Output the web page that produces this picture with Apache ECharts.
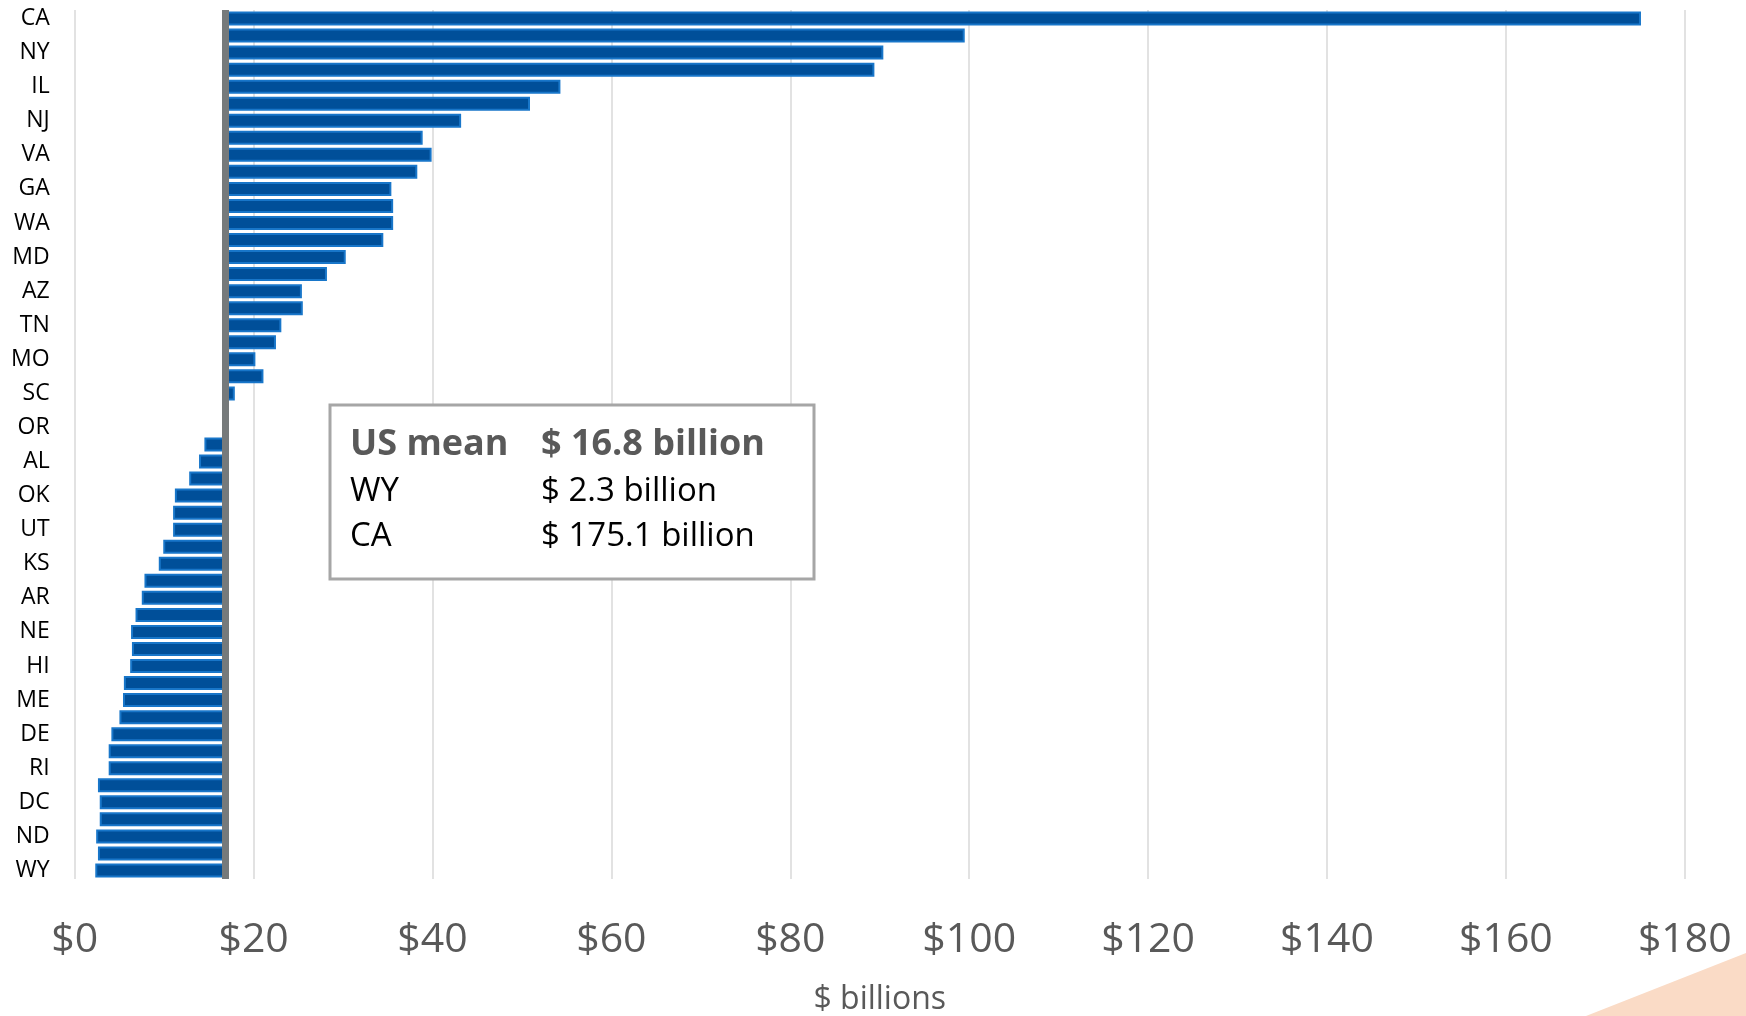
<!DOCTYPE html>
<html>
<head>
<meta charset="utf-8">
<script src="https://cdn.jsdelivr.net/npm/echarts@6/dist/echarts.min.js"></script>
<style>
  html, body { margin: 0; padding: 0; background: #ffffff; }
  #chart { width: 1746px; height: 1016px; }
</style>
</head>
<body>
<div id="chart"></div>
<script>
const states = ['CA','TX','NY','FL','IL','PA','NJ','MA','VA','OH','GA','NC','WA','MI','MD','MN','AZ','CO','TN','IN','MO','WI','SC','CT','OR','LA','AL','KY','OK','NV','UT','IA','KS','MS','AR','NM','NE','ID','HI','WV','ME','NH','DE','MT','RI','SD','DC','VT','ND','AK','WY'];
const values = [175.1,99.5,90.4,89.4,54.3,50.9,43.2,38.9,39.9,38.3,35.4,35.6,35.6,34.5,30.3,28.2,25.4,25.5,23.1,22.5,20.2,21.1,17.9,17.2,16.6,14.5,13.9,12.8,11.2,11.0,11.0,9.9,9.4,7.8,7.5,6.8,6.3,6.4,6.2,5.5,5.4,5.0,4.1,3.8,3.8,2.6,2.8,2.8,2.4,2.6,2.3];
const usMean = 16.8;
const xTicks = [0,20,40,60,80,100,120,140,160,180];
const boxRows = [
  ['US mean', '$ 16.8 billion'],
  ['WY', '$ 2.3 billion'],
  ['CA', '$ 175.1 billion']
];

const baseVals = values.map(v => Math.min(v, usMean));
const deltaVals = values.map(v => Math.abs(v - usMean));

const chart = echarts.init(document.getElementById('chart'));
const FONT = 'Open Sans';

chart.setOption({
  animation: false,
  backgroundColor: '#ffffff',
  grid: { left: 74.7, right: 61.2, top: 10, bottom: 137, containLabel: false, outerBoundsMode: 'none' },
  xAxis: {
    type: 'value',
    min: xTicks[0],
    max: xTicks[xTicks.length - 1],
    interval: 20,
    axisLine: { show: false },
    axisTick: { show: false },
    splitLine: { show: true, lineStyle: { color: '#d9d9d9', width: 1.5 } },
    axisLabel: {
      formatter: v => '$' + v,
      color: '#595959',
      fontFamily: FONT,
      fontSize: 41,
      margin: 41
    },
    name: '$ billions',
    nameLocation: 'middle',
    nameGap: 105,
    nameMoveOverlap: false,
    nameTextStyle: { color: '#595959', fontFamily: FONT, fontSize: 32 }
  },
  yAxis: {
    type: 'category',
    data: states,
    inverse: true,
    axisLine: { show: false },
    axisTick: { show: false },
    splitLine: { show: false },
    axisLabel: {
      interval: 1,
      color: '#000000',
      fontFamily: FONT,
      fontSize: 23,
      margin: 25
    }
  },
  series: [
    {
      type: 'bar',
      stack: 'diff',
      data: baseVals,
      silent: true,
      barWidth: 14,
      itemStyle: { color: 'rgba(0,0,0,0)', borderWidth: 0 },
      emphasis: { disabled: true }
    },
    {
      type: 'bar',
      stack: 'diff',
      data: deltaVals,
      barWidth: 14,
      silent: true,
      itemStyle: { color: '#004f99', borderColor: '#1876c9', borderWidth: 2 },
      emphasis: { disabled: true },
      markLine: {
        silent: true,
        symbol: ['none', 'none'],
        label: { show: false },
        lineStyle: { color: '#767a7b', width: 7, type: 'solid' },
        data: [{ xAxis: usMean }],
        z: 10
      }
    }
  ],
  graphic: [
    {
      type: 'polygon',
      shape: { points: [[1586, 1016], [1746, 953], [1746, 1016]] },
      style: { fill: '#fadbc6' },
      silent: true
    },
    {
      type: 'rect',
      shape: { x: 330, y: 405, width: 484, height: 174 },
      style: { fill: '#ffffff', stroke: '#a6a6a6', lineWidth: 3 },
      z: 100,
      silent: true
    },
    {
      type: 'text', left: 350, top: 427, z: 101, silent: true,
      style: { text: boxRows[0][0], fill: '#595959', font: 'bold 36px "Open Sans"' }
    },
    {
      type: 'text', left: 541, top: 427, z: 101, silent: true,
      style: { text: boxRows[0][1], fill: '#595959', font: 'bold 36px "Open Sans"' }
    },
    {
      type: 'text', left: 350, top: 475, z: 101, silent: true,
      style: { text: boxRows[1][0], fill: '#000000', font: '33px "Open Sans"' }
    },
    {
      type: 'text', left: 541, top: 475, z: 101, silent: true,
      style: { text: boxRows[1][1], fill: '#000000', font: '33px "Open Sans"' }
    },
    {
      type: 'text', left: 350, top: 520, z: 101, silent: true,
      style: { text: boxRows[2][0], fill: '#000000', font: '33px "Open Sans"' }
    },
    {
      type: 'text', left: 541, top: 520, z: 101, silent: true,
      style: { text: boxRows[2][1], fill: '#000000', font: '33px "Open Sans"' }
    }
  ]
});
</script>
</body>
</html>
